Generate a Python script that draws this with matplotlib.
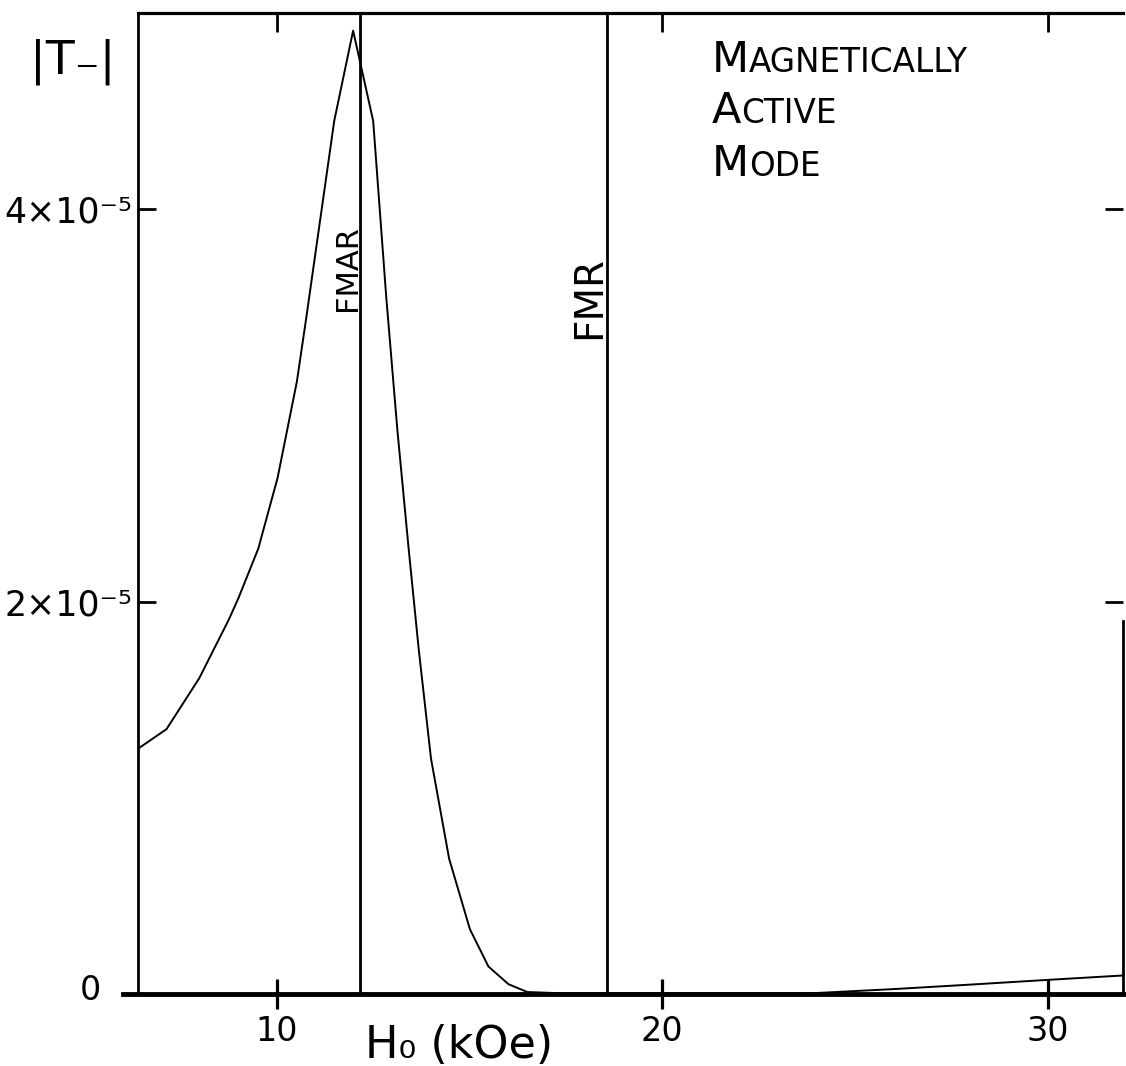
import matplotlib
matplotlib.use('Agg')
import matplotlib.pyplot as plt

# applied field H0 (kOe) and |T-| (units of 1e-5)
h0 = [6.4, 7.14, 7.99, 8.76, 9.01, 9.52, 10.02, 10.52, 10.76, 11.49,
      11.98, 12.50, 12.84, 13.13, 13.42, 13.68, 14.00, 14.47, 15.01, 15.49,
      16.01, 16.5, 17.5, 20.0, 23.8, 26.0, 28.0, 30.0, 32.0]
t_minus = [1.25, 1.35, 1.61, 1.91, 2.02, 2.27, 2.63, 3.12, 3.44, 4.45,
           4.91, 4.45, 3.55, 2.87, 2.27, 1.76, 1.20, 0.69, 0.33, 0.14,
           0.05, 0.01, 0.003, 0.003, 0.003, 0.025, 0.048, 0.072, 0.095]

fmar = 12.17   # FMAR field
fmr = 18.56    # FMR field

xticks = [10, 20, 30]
xtick_labels = ['10', '20', '30']
yticks = [2e-5, 4e-5]
ytick_labels = ['2×10⁻⁵', '4×10⁻⁵']

W, H = 1126, 1066
fig = plt.figure(figsize=(W / 100, H / 100), dpi=100)
ax = fig.add_axes([138 / W, 1 - 994 / H, (1123 - 138) / W, (994 - 13) / H])

ax.plot(h0, [v * 1e-5 for v in t_minus], color='k', lw=1.4)
ax.axvline(fmar, color='k', lw=2)
ax.axvline(fmr, color='k', lw=2)

ax.set_xlim(6.4, 31.95)
ax.set_ylim(0, 5.0e-5)

# spines
ax.spines['left'].set_linewidth(2)
ax.spines['top'].set_linewidth(2.3)
ax.spines['bottom'].set_linewidth(3.5)
ax.spines['bottom'].set_bounds(6.0, 31.95)
ax.spines['right'].set_linewidth(2)
ax.spines['right'].set_bounds(0, 1.9e-5)

ax.set_xticks(xticks)
ax.set_xticklabels(xtick_labels)
ax.tick_params(axis='x', direction='inout', length=22, width=2.3,
               labelsize=24, pad=4, top=False)
ax.set_yticks(yticks)
ax.set_yticklabels(ytick_labels)
ax.tick_params(axis='y', direction='in', length=13, width=2,
               labelsize=25, pad=4, right=False)

top = ax.secondary_xaxis('top')
top.set_xticks(xticks)
top.tick_params(direction='in', length=14, width=2, labeltop=False)
top.spines['top'].set_visible(False)

right = ax.secondary_yaxis('right')
right.set_yticks(yticks)
right.tick_params(direction='in', length=13, width=2, labelright=False)
right.spines['right'].set_visible(False)

# vertical labels on the resonance lines
ax.annotate('FMAR', xy=(fmar, 3.70e-5), xytext=(1, 0), textcoords='offset points',
            rotation=90, ha='right', va='center', fontsize=22)
ax.annotate('FMR', xy=(fmr, 3.55e-5), xytext=(1, 0), textcoords='offset points',
            rotation=90, ha='right', va='center', fontsize=28)

# axis titles and the zero label
fig.text(73 / W, 1 - 62 / H, '|T₋|', ha='center', va='center', fontsize=34)
fig.text(90 / W, 1 - 990 / H, '0', ha='center', va='center', fontsize=24)
fig.text(365 / W, 1 - 1058 / H, 'H₀ (kOe)', ha='left', va='baseline', fontsize=32)


def small_caps(word, x_px, base_px):
    first = fig.text(x_px / W, 1 - base_px / H, word[0], ha='left',
                     va='baseline', fontsize=31)
    ax.annotate(word[1:], xy=(1, 1 - base_px / H),
                xycoords=(first, 'figure fraction'),
                ha='left', va='baseline', fontsize=23.5)


small_caps('MAGNETICALLY', 712, 72)
small_caps('ACTIVE', 712, 123)
small_caps('MODE', 712, 176)

fig.savefig('out.png', dpi=100, facecolor='white')
